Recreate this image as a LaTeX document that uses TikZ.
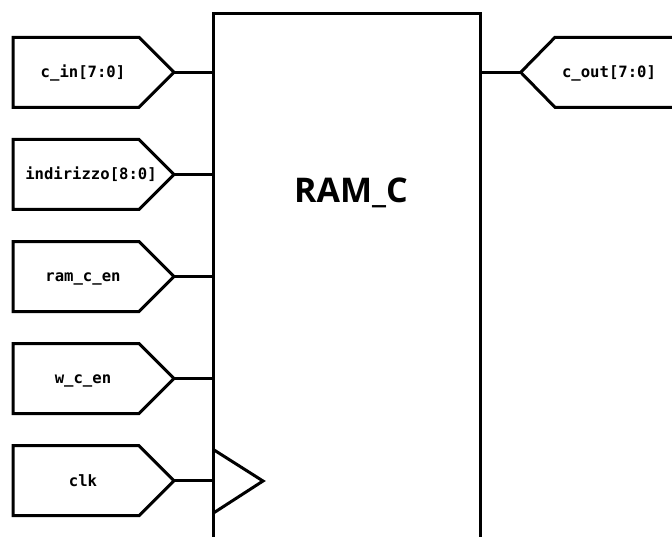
\documentclass[tikz,border=0pt]{standalone}
\usepackage{fontspec}
\newfontfamily\pinfont{DejaVu Sans Mono}
\newfontfamily\titlefont{Open Sans}
\begin{document}
\begin{tikzpicture}[x=1pt, y=-1pt, line join=miter,
  outline/.style={draw=black, line width=3pt},
  wire/.style={draw=black, line width=3pt},
  pinlabel/.style={font=\pinfont\bfseries\fontsize{15.6}{17}\selectfont, anchor=base, inner sep=0pt},
  titlelabel/.style={font=\titlefont\bfseries\fontsize{34}{38}\selectfont, anchor=base, inner sep=0pt}]
\clip (0,0) rectangle (672,536);
\fill[white] (0,0) rectangle (672,536);

% input pins on the left, one row every 102.1 units
\foreach \n/\t/\tx [count=\i from 0] in {cin/{c\_in[7:0]}/83, addr/{indirizzo[8:0]}/91,
    ramen/{ram\_c\_en}/83, wen/{w\_c\_en}/83, clk/{clk}/83}{
  \pgfmathsetmacro{\yy}{72.3+102.1*\i}
  \draw[outline] (13,\yy-35) -- (139,\yy-35) -- (174,\yy) -- (139,\yy+35) -- (13,\yy+35) -- cycle;
  \coordinate (\n-tip) at (174,\yy);
  \coordinate (\n-port) at (213,\yy);
  \node[pinlabel] (\n-label) at (\tx,\yy+5.3) {\t};
  \draw[wire] (\n-tip) -- (\n-port);
}

% output pin on the right
\draw[outline] (700,37.3) -- (555,37.3) -- (520.7,72.3) -- (555,107.3) -- (700,107.3);
\coordinate (cout-tip) at (520.7,72.3);
\coordinate (cout-port) at (480,72.3);
\node[pinlabel] (cout-label) at (609,77.6) {c\_out[7:0]};
\draw[wire] (cout-port) -- (cout-tip);

% the RAM block
\draw[outline] (213,600) -- (213,13) -- (480,13) -- (480,600);
\node[titlelabel] (title) at (351,202) {RAM\_C};

% clock marker
\draw[outline] (213,449.3) -- (263,481) -- (213,513.3);
\end{tikzpicture}
\end{document}
